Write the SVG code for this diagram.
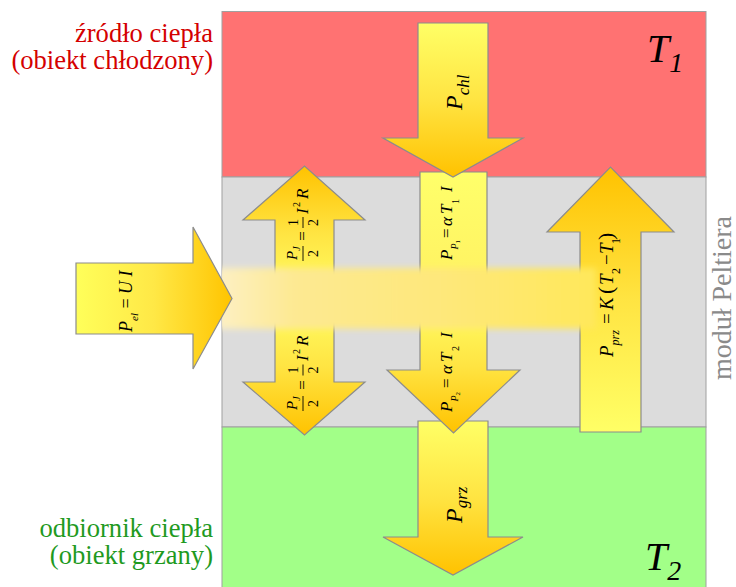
<svg xmlns="http://www.w3.org/2000/svg" width="736" height="587" viewBox="0 0 736 587">
<defs>
<style>
.m{font-family:"Liberation Serif","Times New Roman",serif;fill:#000}
.i{font-style:italic}
.arr{stroke:#8c8c8c;stroke-width:1.2;stroke-linejoin:miter}
.lbl{font-family:"Liberation Serif","Times New Roman",serif;font-size:26.6px;text-anchor:end}
.red{fill:#d40000}
.grn{fill:#1f9a1f}
.gry{fill:#8a8a8a}
.bar{stroke:#000;stroke-width:0.9}
.reg{stroke:#a0a0a0;stroke-width:1}
</style>
<linearGradient id="gDown" x1="0" y1="0" x2="0" y2="1">
<stop offset="0" stop-color="#ffff66"/><stop offset="0.5" stop-color="#ffe442"/><stop offset="1" stop-color="#ffc200"/>
</linearGradient>
<linearGradient id="gUp" x1="0" y1="1" x2="0" y2="0">
<stop offset="0" stop-color="#ffff66"/><stop offset="0.5" stop-color="#ffe442"/><stop offset="1" stop-color="#ffc200"/>
</linearGradient>
<linearGradient id="gRight" x1="0" y1="0" x2="1" y2="0">
<stop offset="0" stop-color="#ffff5a"/><stop offset="0.5" stop-color="#ffe846"/><stop offset="1" stop-color="#ffc400"/>
</linearGradient>
<linearGradient id="gRect" x1="0" y1="0" x2="0" y2="1">
<stop offset="0" stop-color="#ffff6a"/><stop offset="1" stop-color="#fff060"/>
</linearGradient>
<linearGradient id="gBand" x1="0" y1="0" x2="1" y2="0">
<stop offset="0" stop-color="#fdf0c4"/><stop offset="0.2" stop-color="#fde992"/><stop offset="0.6" stop-color="#fee87a"/><stop offset="1" stop-color="#ffe85a"/>
</linearGradient>
<filter id="blur" x="-5%" y="-40%" width="110%" height="180%"><feGaussianBlur stdDeviation="3"/></filter>
<clipPath id="clipR"><rect x="222" y="0" width="484" height="587"/></clipPath>
</defs>

<g id="regions">
<rect class="reg" x="222" y="11.5" width="484" height="165.5" fill="#ff7272"/>
<rect class="reg" x="222" y="177" width="484" height="250" fill="#dcdcdc"/>
<rect class="reg" x="222" y="427" width="484" height="170" fill="#a2ff88"/>
</g>

<g id="labels">
<text class="lbl red" x="213" y="41.5">źródło ciepła</text>
<text class="lbl red" x="213" y="68.5">(obiekt chłodzony)</text>
<text class="lbl grn" x="213" y="536.5">odbiornik ciepła</text>
<text class="lbl grn" x="213" y="563.5">(obiekt grzany)</text>
<text class="m i" font-size="40" x="647" y="62">T<tspan font-size="28" dy="10">1</tspan></text>
<text class="m i" font-size="40" x="645" y="570">T<tspan font-size="28" dy="10">2</tspan></text>
<text class="m gry" font-size="28" text-anchor="middle" transform="translate(731,298) rotate(-90)">moduł Peltiera</text>
</g>

<g id="connectors">
<g id="arrow-pj-up"><path class="arr" fill="url(#gUp)" d="M275,300 V220 H243 L304.5,166 L365,220 H334 V300 Z"/></g>
<g id="arrow-pj-down"><path class="arr" fill="url(#gDown)" d="M275,300 V382 H243 L304.5,435 L365,382 H334 V300 Z"/></g>
<g id="rect-pp1"><path class="arr" fill="url(#gRect)" d="M420,300 V172 H487 V300 Z"/></g>
<g id="arrow-pgrz"><path class="arr" fill="url(#gDown)" d="M418,421 H488 V537 H523 L453,575 L383,537 H418 Z"/></g>
<g id="arrow-pp2"><path class="arr" fill="url(#gDown)" d="M420,300 H487 V370 H520 L453.5,433 L387,370 H420 Z"/></g>
<g id="arrow-pprz"><path class="arr" fill="url(#gUp)" d="M580,432 V232 H547 L610.5,167 L674,232 H641 V432 Z"/></g>
<g id="arrow-pchl"><path class="arr" fill="url(#gDown)" d="M418,23 H488 V138 H523 L453,177 L383,138 H418 Z"/></g>
<g id="band" clip-path="url(#clipR)"><rect x="218" y="268" width="378" height="61" fill="url(#gBand)" filter="url(#blur)"/></g>
<g id="arrow-pel"><path class="arr" fill="url(#gRight)" d="M76,263 H193 V227 L232,298.5 L193,369 V334 H76 Z"/></g>
</g>

<g id="formulas">
<g transform="translate(132,332) rotate(-90)">
<text class="m" font-size="18"><tspan class="i">P</tspan><tspan class="i" font-size="11" dy="6">el</tspan><tspan dy="-6"> = </tspan><tspan class="i">U I</tspan></text>
</g>
<g transform="translate(462,110) rotate(-90)">
<text class="m i" font-size="24">P<tspan font-size="17" dy="7">chl</tspan></text>
</g>
<g transform="translate(462,523) rotate(-90)">
<text class="m i" font-size="24">P<tspan font-size="17" dy="5">grz</tspan></text>
</g>
<g transform="translate(452,260) rotate(-90)">
<text class="m" font-size="17"><tspan class="i" x="0">P</tspan><tspan class="i" font-size="10" dy="6">P</tspan><tspan font-size="7" dy="2">1</tspan><tspan x="22" dy="-8">=</tspan><tspan class="i" x="34">α</tspan><tspan class="i" x="46">T</tspan><tspan font-size="10" x="56" dy="7">1</tspan><tspan class="i" x="68" dy="-7">I</tspan></text>
</g>
<g transform="translate(452,412) rotate(-90)">
<text class="m" font-size="17"><tspan class="i" x="0">P</tspan><tspan class="i" font-size="10" dy="6">P</tspan><tspan font-size="7" dy="2">2</tspan><tspan x="24" dy="-8">=</tspan><tspan class="i" x="38">α</tspan><tspan class="i" x="50">T</tspan><tspan font-size="10" x="61" dy="7">2</tspan><tspan class="i" x="74" dy="-7">I</tspan></text>
</g>
<g transform="translate(613,357) rotate(-90)">
<text class="m" font-size="19"><tspan class="i" x="0">P</tspan><tspan class="i" font-size="12" dy="6">prz</tspan><tspan x="33" dy="-6">=</tspan><tspan class="i" x="47">K</tspan><tspan x="63" font-size="22">(</tspan><tspan class="i" x="72">T</tspan><tspan font-size="12" x="83" dy="7">2</tspan><tspan x="92" dy="-7">−</tspan><tspan class="i" x="103">T</tspan><tspan font-size="12" x="113" dy="7">1</tspan><tspan x="117" dy="-7" font-size="22">)</tspan></text>
</g>
<g id="pj-up-text" transform="translate(308,260) rotate(-90)">
<text class="m i" font-size="15" x="0" y="-11">P<tspan font-size="10" dy="3">J</tspan></text>
<line class="bar" x1="-1" y1="-5" x2="14" y2="-5"/>
<text class="m" font-size="14" x="6.5" y="10" text-anchor="middle">2</text>
<text class="m" font-size="17" x="24" y="0" text-anchor="middle">=</text>
<text class="m" font-size="14" x="37.5" y="-10" text-anchor="middle">1</text>
<line class="bar" x1="32" y1="-5" x2="43" y2="-5"/>
<text class="m" font-size="14" x="37.5" y="10" text-anchor="middle">2</text>
<text class="m i" font-size="17" x="46">I</text>
<text class="m" font-size="10" x="53" y="-8">2</text>
<text class="m i" font-size="17" x="61">R</text>
</g>
<g id="pj-down-text" transform="translate(308,410) rotate(-90)">
<text class="m i" font-size="15" x="0" y="-11">P<tspan font-size="10" dy="3">J</tspan></text>
<line class="bar" x1="-1" y1="-5" x2="14" y2="-5"/>
<text class="m" font-size="14" x="6.5" y="10" text-anchor="middle">2</text>
<text class="m" font-size="17" x="25" y="0" text-anchor="middle">=</text>
<text class="m" font-size="14" x="40" y="-10" text-anchor="middle">1</text>
<line class="bar" x1="34.5" y1="-5" x2="45.5" y2="-5"/>
<text class="m" font-size="14" x="40" y="10" text-anchor="middle">2</text>
<text class="m i" font-size="17" x="49">I</text>
<text class="m" font-size="10" x="56" y="-8">2</text>
<text class="m i" font-size="17" x="64">R</text>
</g>
</g>
</svg>
